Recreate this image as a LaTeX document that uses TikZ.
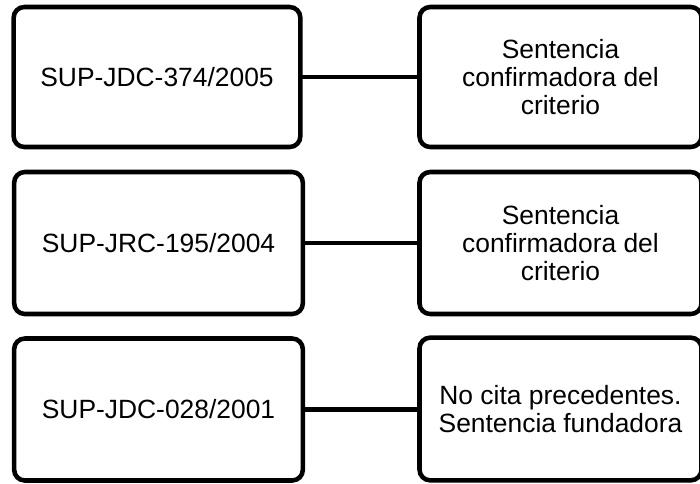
\documentclass[tikz,border=0pt]{standalone}
\usepackage{fontspec}
\setmainfont{Liberation Sans}
\begin{document}
\begin{tikzpicture}[x=0.75pt,y=-0.75pt,
  casebox/.style={draw=black, line width=3.4pt, rounded corners=8pt, fill=white,
    align=center, inner sep=0pt, outer sep=0pt,
    font=\fontsize{19.8pt}{20.8pt}\selectfont},
  link/.style={draw=black, line width=3.4pt}]
\useasboundingbox (0,0) rectangle (700,483);

% left column: case identifiers
\node[casebox, minimum width=215pt, minimum height=105pt] (c1) at (157,77) {SUP-JDC-374/2005};
\node[casebox, minimum width=216.5pt, minimum height=106.5pt] (c2) at (158.5,243) {SUP-JRC-195/2004};
\node[casebox, minimum width=216.5pt, minimum height=106.5pt] (c3) at (158.5,409.5) {SUP-JDC-028/2001};

% right column: role of each ruling
\node[casebox, minimum width=211.5pt, minimum height=105pt] (r1) at (560.5,77) {Sentencia\\confirmadora del\\criterio};
\node[casebox, minimum width=211.5pt, minimum height=106.5pt] (r2) at (560.5,243) {Sentencia\\confirmadora del\\criterio};
\node[casebox, minimum width=211.5pt, minimum height=107pt] (r3) at (560.5,409) {No cita precedentes.\\Sentencia fundadora};

% connectors
\draw[link] (c1.east) -- (r1.west);
\draw[link] (c2.east) -- (r2.west);
\draw[link] (c3.east) -- (c3.east -| r3.west);
\end{tikzpicture}
\end{document}
